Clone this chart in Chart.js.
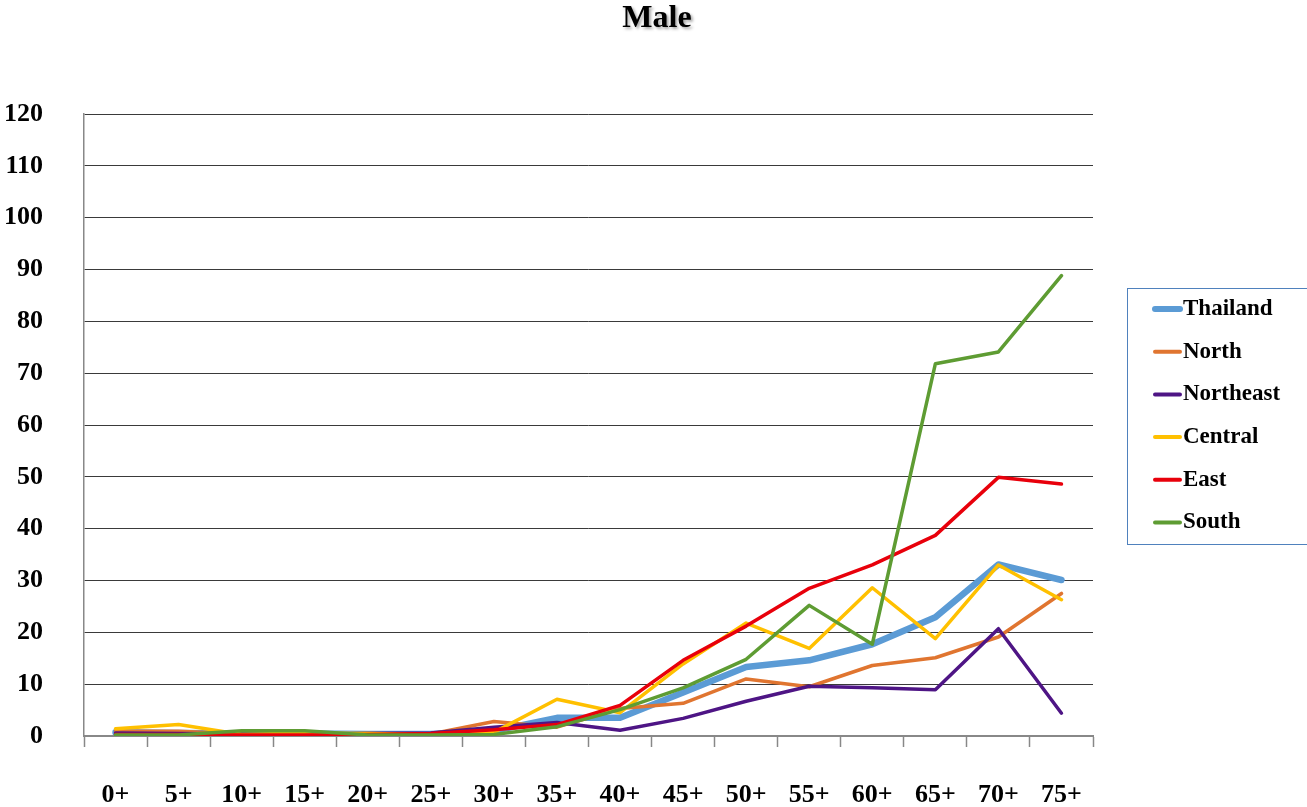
<!DOCTYPE html>
<html>
<head>
<meta charset="utf-8">
<script src="https://cdn.jsdelivr.net/npm/chart.js@4/dist/chart.umd.min.js"></script>
<style>
  html, body { margin: 0; padding: 0; background: #fff; overflow: hidden; }
  #wrap { width: 1307px; height: 807px; }
</style>
</head>
<body>
<div id="wrap"><canvas id="chartMale" width="1307" height="807"></canvas></div>
<script>
// age groups
var ageGroups = ['0+', '5+', '10+', '15+', '20+', '25+', '30+', '35+', '40+', '45+', '50+', '55+', '60+', '65+', '70+', '75+'];

// rates by region
var thailand  = [0.7, 0.6, 0.5, 0.5, 0.4, 0.4, 1.0, 3.5, 3.5, 8.4, 13.3, 14.6, 17.7, 22.9, 33.1, 30.1];
var north     = [0.9, 0.9, 0.4, 0.3, 0.5, 0.4, 2.8, 1.7, 5.3, 6.3, 11.0, 9.5, 13.6, 15.1, 19.1, 27.5];
var northeast = [0.6, 0.5, 0.4, 0.4, 0.5, 0.6, 1.7, 2.6, 1.1, 3.4, 6.7, 9.6, 9.3, 8.9, 20.7, 4.4];
var central   = [1.4, 2.2, 0.3, 0.6, 0.5, 0.3, 0.7, 7.1, 4.5, 13.9, 21.8, 16.9, 28.6, 18.8, 33.0, 26.3];
var east      = [0.3, 0.3, 0.2, 0.2, 0.3, 0.5, 1.2, 2.2, 5.9, 14.6, 21.2, 28.5, 33.0, 38.7, 49.9, 48.6];
var south     = [0.2, 0.2, 1.0, 1.0, 0.2, 0.2, 0.3, 1.8, 5.1, 9.3, 14.8, 25.2, 17.7, 71.8, 74.1, 88.8];

var yTicks = { min: 0, max: 120, step: 10 };

var serif = "'Liberation Serif', 'Times New Roman', serif";

function init_chart_male(){

	if( typeof (Chart) === 'undefined'){ return; }

	// title with a soft shadow, like the original
	var titlePlugin = {
		id: 'shadowTitle',
		afterDraw: function(chart){
			var ctx = chart.ctx;
			ctx.save();
			ctx.font = 'bold 32px ' + serif;
			ctx.textAlign = 'center';
			ctx.textBaseline = 'alphabetic';
			ctx.shadowColor = 'rgba(0,0,0,0.35)';
			ctx.shadowOffsetX = 2;
			ctx.shadowOffsetY = 2;
			ctx.shadowBlur = 3;
			ctx.fillStyle = '#000';
			ctx.fillText('Male', 657, 27);
			ctx.restore();
		}
	};

	// boxed legend on the right, cut by the edge as in the picture
	var legendPlugin = {
		id: 'boxLegend',
		afterDraw: function(chart){
			var ctx = chart.ctx;
			ctx.save();
			ctx.strokeStyle = '#4F81BD';
			ctx.lineWidth = 1;
			ctx.strokeRect(1127.5, 288.5, 220, 256);
			chart.data.datasets.forEach(function(ds, i){
				var y = 309 + i * 42.7;
				ctx.beginPath();
				ctx.lineCap = 'round';
				ctx.strokeStyle = ds.borderColor;
				ctx.lineWidth = (i === 0) ? 6 : 4;
				ctx.moveTo(1155, y);
				ctx.lineTo(1180, y);
				ctx.stroke();
				ctx.font = 'bold 23px ' + serif;
				ctx.textAlign = 'left';
				ctx.textBaseline = 'middle';
				ctx.fillStyle = '#000';
				ctx.fillText(ds.label, 1183, y);
			});
			ctx.restore();
		}
	};

	var chart_line_settings = {
		type: 'line',
		data: {
			labels: ageGroups,
			datasets: [
				{ label: 'Thailand',  data: thailand,  borderColor: '#5B9BD5', borderWidth: 6.5, order: 6 },
				{ label: 'North',     data: north,     borderColor: '#E07530', borderWidth: 3.5, order: 5 },
				{ label: 'Northeast', data: northeast, borderColor: '#4E1585', borderWidth: 3.5, order: 4 },
				{ label: 'Central',   data: central,   borderColor: '#FFC000', borderWidth: 3.5, order: 3 },
				{ label: 'East',      data: east,      borderColor: '#E8000B', borderWidth: 3.5, order: 2 },
				{ label: 'South',     data: south,     borderColor: '#5E9C33', borderWidth: 3.5, order: 1 }
			]
		},
		options: {
			responsive: false,
			animation: false,
			elements: {
				line: { tension: 0, fill: false, borderCapStyle: 'round', borderJoinStyle: 'round' },
				point: { radius: 0, hoverRadius: 0 }
			},
			layout: { padding: { top: 114, right: 214, bottom: 0, left: 0 } },
			plugins: {
				legend: { display: false },
				title: { display: false },
				tooltip: { enabled: false }
			},
			scales: {
				x: {
					offset: true,
					grid: {
						offset: true,
						drawOnChartArea: false,
						drawTicks: true,
						tickLength: 11,
						tickColor: '#888',
						tickWidth: 1.5
					},
					border: { display: true, color: '#888', width: 2 },
					ticks: {
						color: '#000',
						padding: 33,
						maxRotation: 0,
						autoSkip: false,
						font: { family: serif, size: 26, weight: 'bold' }
					},
					afterFit: function(scale){ scale.height = 71; }
				},
				y: {
					min: yTicks.min,
					max: yTicks.max,
					grid: {
						color: '#3a3a3a',
						lineWidth: 1,
						drawTicks: false
					},
					border: { display: true, color: '#888', width: 1.5 },
					ticks: {
						stepSize: yTicks.step,
						color: '#000',
						padding: 41,
						font: { family: serif, size: 26, weight: 'bold' }
					},
					afterFit: function(scale){ scale.width = 84; }
				}
			}
		},
		plugins: [titlePlugin, legendPlugin]
	};

	var chart_element = document.getElementById('chartMale');
	var chart_line = new Chart(chart_element, chart_line_settings);
}

init_chart_male();
</script>
</body>
</html>
